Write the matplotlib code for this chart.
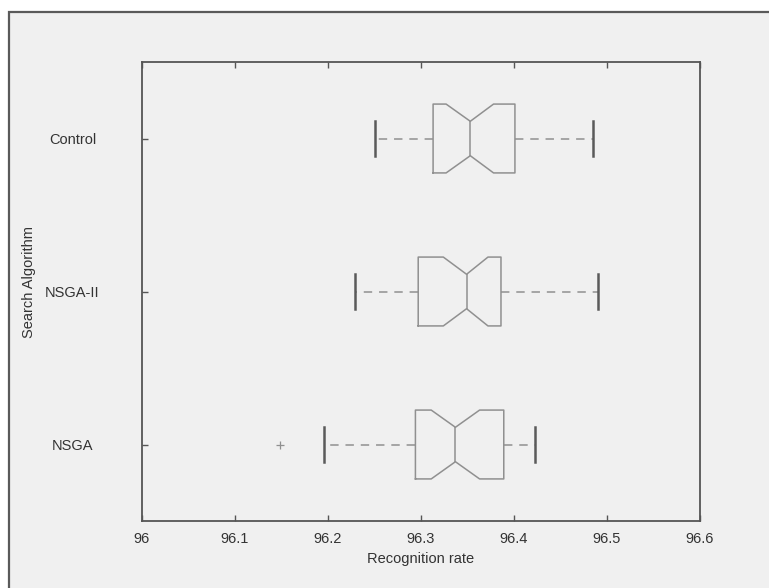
import numpy as np
import matplotlib.pyplot as plt
from matplotlib.patches import Rectangle

plt.rcParams['font.family'] = ['Liberation Sans', 'DejaVu Sans']

# search algorithms, bottom to top
labels = ['NSGA', 'NSGA-II', 'Control']
q1 = [96.294, 96.297, 96.313]
med = [96.337, 96.349, 96.353]
q3 = [96.389, 96.386, 96.401]
whislo = [96.196, 96.229, 96.251]
whishi = [96.423, 96.490, 96.485]
cilo = [96.311, 96.324, 96.327]
cihi = [96.363, 96.372, 96.378]
fliers = [[96.148], [], []]
xticks = [96.0, 96.1, 96.2, 96.3, 96.4, 96.5, 96.6]
xticklabels = ['96', '96.1', '96.2', '96.3', '96.4', '96.5', '96.6']

bg = '#f0f0f0'
fig = plt.figure(figsize=(7.69, 5.88), dpi=100)
fig.patch.set_facecolor('white')
# scanned page frame
fig.patches.append(Rectangle((9/769, -0.05), 1.1, 1 - 12/588 + 0.05,
                             transform=fig.transFigure, facecolor=bg,
                             edgecolor='#5a5a5a', linewidth=1.6, zorder=-10))

ax = fig.add_axes([142/769, 67/588, 558/769, 459/588])
ax.set_facecolor(bg)

stats = []
for i in range(len(labels)):
    stats.append(dict(label=labels[i], q1=q1[i], med=med[i], q3=q3[i],
                      whislo=whislo[i], whishi=whishi[i],
                      cilo=cilo[i], cihi=cihi[i], fliers=fliers[i]))

ax.bxp(stats, positions=[1, 2, 3], widths=0.45, orientation='horizontal',
       shownotches=True,
       boxprops=dict(color='#909090', linewidth=1.1),
       medianprops=dict(color='#909090', linewidth=1.1),
       whiskerprops=dict(color='#909090', linewidth=1.1, linestyle=(0, (5.5, 4.5))),
       capprops=dict(color='#5a5a5a', linewidth=1.8),
       flierprops=dict(marker='+', markeredgecolor='#909090', markersize=6,
                       markeredgewidth=0.9))

ax.set_xlim(96.0, 96.6)
ax.set_ylim(0.5, 3.5)
ax.set_xticks(xticks)
ax.set_xticklabels(xticklabels)
ax.set_yticks([1, 2, 3])
ax.set_yticklabels(labels)
for t in ax.get_yticklabels():
    t.set_ha('center')

ax.tick_params(axis='x', direction='in', top=True, length=4, width=1,
               color='#555555', labelsize=10.5, labelcolor='#333333', pad=8)
ax.tick_params(axis='y', direction='in', left=True, right=False, length=4,
               width=1, color='#555555', labelsize=10.5,
               labelcolor='#333333', pad=50)
for s in ax.spines.values():
    s.set_color('#555555')
    s.set_linewidth(1.3)

ax.set_xlabel('Recognition rate', fontsize=10.5, color='#333333', labelpad=4)
ax.set_ylabel('Search Algorithm', fontsize=10.5, color='#333333')
ax.yaxis.set_label_coords(-0.19, 0.52)

fig.savefig('out.png', dpi=100, facecolor=fig.get_facecolor())
